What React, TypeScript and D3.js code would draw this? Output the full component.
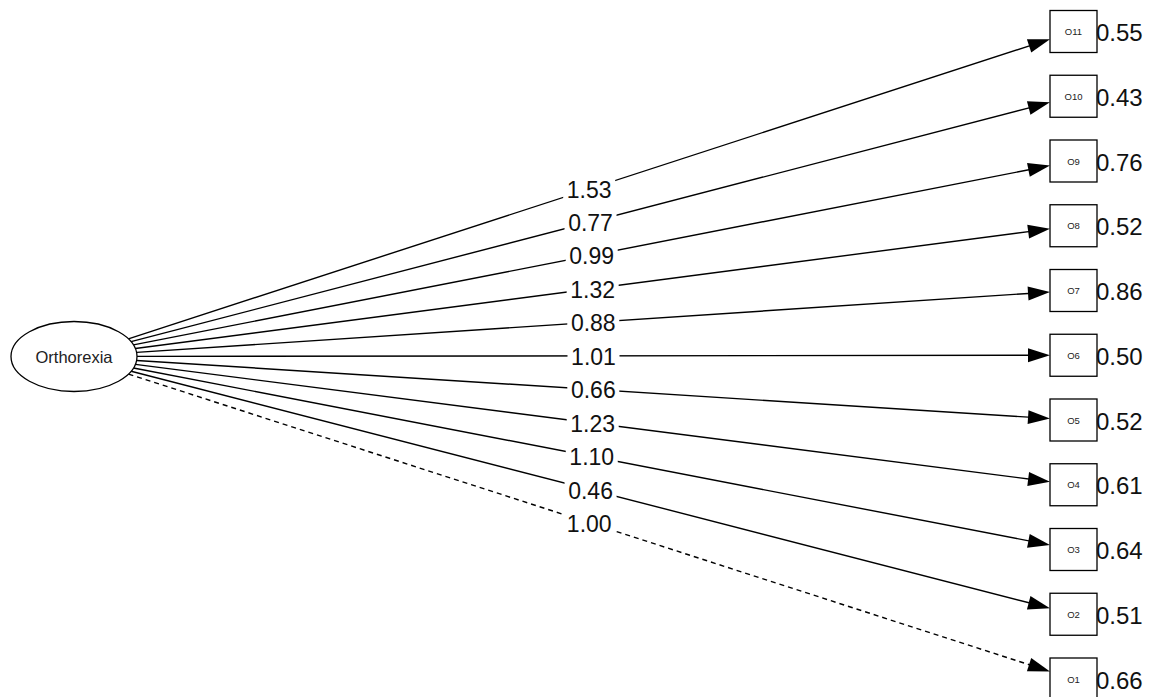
import React from "react";
import * as d3 from "d3";

const latent = "Orthorexia";
const indicators = ["O11", "O10", "O9", "O8", "O7", "O6", "O5", "O4", "O3", "O2", "O1"];
const loadings = [1.53, 0.77, 0.99, 1.32, 0.88, 1.01, 0.66, 1.23, 1.1, 0.46, 1.0];
const residuals = [0.55, 0.43, 0.76, 0.52, 0.86, 0.5, 0.52, 0.61, 0.64, 0.51, 0.66];
const fixedLoading = [false, false, false, false, false, false, false, false, false, false, true];

const W = 1150;
const H = 697;
const FONT = "Liberation Sans, Arial, sans-serif";

export default function App() {
  const y = d3.scaleLinear().domain([0, indicators.length - 1]).range([31.5, 679]);
  const lat = { x: 74, y: 356.5, rx: 63, ry: 35 };
  const box = { cx: 1073.5, hw: 23.5, hh: 21 };
  const arrowLen = 22;
  const arrowHW = 7;
  const fmt = d3.format(".2f");

  const edges = indicators.map((name, i) => {
    const ty = y(i);
    const dx = box.cx - lat.x;
    const dy = ty - lat.y;
    const te = 1 / Math.sqrt((dx / lat.rx) ** 2 + (dy / lat.ry) ** 2);
    const sx = lat.x + dx * te;
    const sy = lat.y + dy * te;
    const tx1 = box.hw / Math.abs(dx);
    const ty1 = box.hh / Math.abs(dy || 1e-9);
    const tb = 1 - Math.min(tx1, ty1);
    const ex = lat.x + dx * tb;
    const ey = lat.y + dy * tb;
    const len = Math.hypot(ex - sx, ey - sy);
    const ux = (ex - sx) / len;
    const uy = (ey - sy) / len;
    const bx = ex - ux * arrowLen;
    const by = ey - uy * arrowLen;
    const px = -uy;
    const py = ux;
    const arrow = [
      [ex, ey],
      [bx + px * arrowHW, by + py * arrowHW],
      [bx - px * arrowHW, by - py * arrowHW],
    ];
    const mx = (sx + ex) / 2;
    const my = (sy + ey) / 2;
    return { name, i, ty, sx, sy, bx, by, arrow, mx, my };
  });

  return (
    <svg
      width={W}
      height={H}
      style={{ position: "absolute", left: 0, top: 0, background: "#fff" }}
      fontFamily={FONT}
    >
      <rect x={0} y={0} width={W} height={H} fill="#fff" />
      {edges.map((e) => (
        <g key={e.name}>
          <line
            x1={e.sx}
            y1={e.sy}
            x2={e.bx + (e.arrow[0][0] - e.bx) * 0.2}
            y2={e.by + (e.arrow[0][1] - e.by) * 0.2}
            stroke="#000"
            strokeWidth={1.4}
            strokeDasharray={fixedLoading[e.i] ? "5,4" : undefined}
          />
          <polygon points={e.arrow.map((p) => p.join(",")).join(" ")} fill="#000" />
        </g>
      ))}
      {edges.map((e) => (
        <g key={e.name + "-lab"}>
          <rect x={e.mx - 26} y={e.my - 11} width={52} height={22} fill="#fff" />
          <text
            x={e.mx}
            y={e.my + 1}
            textAnchor="middle"
            dominantBaseline="central"
            fontSize={23}
            fill="#111"
          >
            {fmt(loadings[e.i])}
          </text>
        </g>
      ))}
      <ellipse cx={lat.x} cy={lat.y} rx={lat.rx} ry={lat.ry} fill="#fff" stroke="#000" strokeWidth={1.3} />
      <text x={lat.x} y={lat.y} textAnchor="middle" dominantBaseline="central" fontSize={16.5} fill="#222">
        {latent}
      </text>
      {edges.map((e) => (
        <g key={e.name + "-box"}>
          <rect
            x={box.cx - box.hw}
            y={e.ty - box.hh}
            width={box.hw * 2}
            height={box.hh * 2}
            fill="#fff"
            stroke="#000"
            strokeWidth={1.3}
          />
          <text x={box.cx} y={e.ty} textAnchor="middle" dominantBaseline="central" fontSize={9.5} fill="#222">
            {e.name}
          </text>
          <text x={box.cx + box.hw - 1} y={e.ty + 1} dominantBaseline="central" fontSize={24} fill="#111">
            {fmt(residuals[e.i])}
          </text>
        </g>
      ))}
    </svg>
  );
}
